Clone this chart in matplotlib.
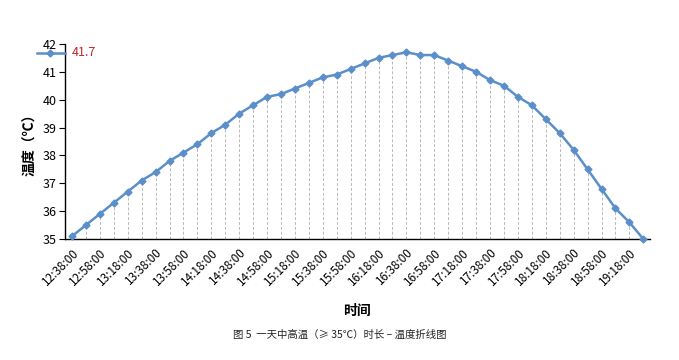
import matplotlib
matplotlib.use("Agg")
import matplotlib.pyplot as plt
from matplotlib.lines import Line2D

plt.rcParams['font.family'] = ['Noto Sans CJK SC', 'DejaVu Sans']

# 10-minute readings from 12:38 to 19:28
times = ["12:38:00", "12:48:00", "12:58:00", "13:08:00", "13:18:00", "13:28:00",
         "13:38:00", "13:48:00", "13:58:00", "14:08:00", "14:18:00", "14:28:00",
         "14:38:00", "14:48:00", "14:58:00", "15:08:00", "15:18:00", "15:28:00",
         "15:38:00", "15:48:00", "15:58:00", "16:08:00", "16:18:00", "16:28:00",
         "16:38:00", "16:48:00", "16:58:00", "17:08:00", "17:18:00", "17:28:00",
         "17:38:00", "17:48:00", "17:58:00", "18:08:00", "18:18:00", "18:28:00",
         "18:38:00", "18:48:00", "18:58:00", "19:08:00", "19:18:00", "19:28:00"]
temps = [35.1, 35.5, 35.9, 36.3, 36.7, 37.1, 37.4, 37.8, 38.1, 38.4,
         38.8, 39.1, 39.5, 39.8, 40.1, 40.2, 40.4, 40.6, 40.8, 40.9,
         41.1, 41.3, 41.5, 41.6, 41.7, 41.6, 41.6, 41.4, 41.2, 41.0,
         40.7, 40.5, 40.1, 39.8, 39.3, 38.8, 38.2, 37.5, 36.8, 36.1,
         35.6, 35.0]
peak_label = "41.7"
blue = "#5b8fc9"

fig = plt.figure(figsize=(6.79, 3.6), dpi=100)
ax = fig.add_axes([0.0957, 0.336, 0.861, 0.542])

x = list(range(len(times)))
ax.vlines(x, 35, temps, colors="#b8b8b8", linestyles=(0, (3, 2)), linewidth=0.7, zorder=1)
ax.plot(x, temps, color=blue, linewidth=1.8, marker="D", markersize=3.5, zorder=3,
        clip_on=False)

ax.set_xlim(-0.5, 41.45)
ax.set_ylim(35, 42)
ax.set_yticks(range(35, 43))
ax.tick_params(axis="y", labelsize=9, length=4, width=0.8, direction="out", pad=2)
ax.set_xticks(x[::2])
ax.set_xticklabels(times[::2], rotation=45, ha="right", va="top",
                   rotation_mode="anchor", fontsize=8.5)
ax.tick_params(axis="x", length=0, pad=5)

for s in ["top", "right"]:
    ax.spines[s].set_visible(False)
ax.spines["left"].set_linewidth(1.0)
ax.spines["bottom"].set_linewidth(1.0)

ax.set_ylabel("温度（℃）", fontsize=10, fontweight="bold", labelpad=4)
ax.set_xlabel("时间", fontsize=10, fontweight="bold", labelpad=12)

# legend-like marker with label in the top-left corner
fig.add_artist(Line2D([37 / 679, 65 / 679], [1 - 53 / 360, 1 - 53 / 360],
                      color=blue, linewidth=1.8, transform=fig.transFigure))
fig.add_artist(Line2D([50 / 679], [1 - 53 / 360], color=blue, marker="D",
                      markersize=3.5, transform=fig.transFigure))
fig.text(72 / 679, 1 - 53 / 360, peak_label, color="#c0272d", fontsize=9,
         va="center", ha="left")

fig.text(0.5, 1 - 335 / 360, "图 5  一天中高温（≥ 35℃）时长 – 温度折线图",
         fontsize=7.5, ha="center", va="center", color="#222222")

fig.savefig("out.png", dpi=100)
